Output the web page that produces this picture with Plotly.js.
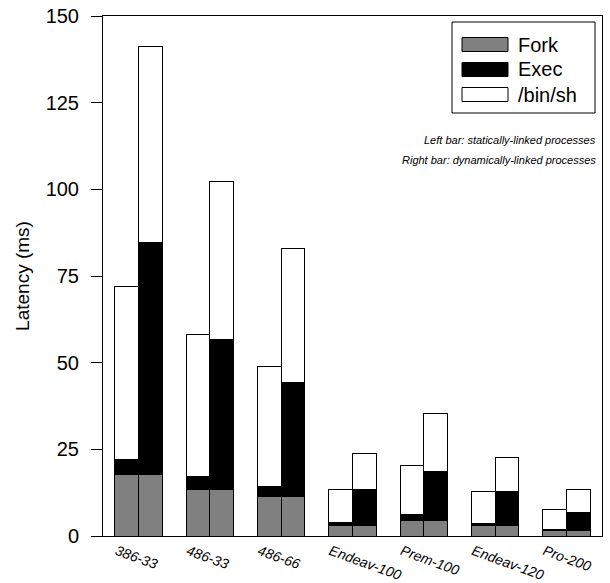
<!DOCTYPE html>
<html>
<head>
<meta charset="utf-8">
<script src="https://cdn.plot.ly/plotly-3.0.1.min.js"></script>
<style>
  html, body { margin: 0; padding: 0; background: #fff; }
  #chart { width: 610px; height: 583px; }
</style>
</head>
<body>
<div id="chart"></div>
<script>
// Machines (one pair of bars each)
const machines = ['386-33', '486-33', '486-66', 'Endeav-100', 'Prem-100', 'Endeav-120', 'Pro-200'];

// Left bar: statically-linked processes (ms per stacked segment)
const staticFork  = [17.7, 13.3, 11.3, 3.1, 4.6, 3.0, 1.5];
const staticExec  = [4.3, 3.8, 3.1, 0.7, 1.5, 0.5, 0.5];
const staticShell = [50.0, 40.9, 34.6, 9.5, 14.2, 9.3, 5.7];

// Right bar: dynamically-linked processes (ms per stacked segment)
const dynamicFork  = [17.7, 13.3, 11.3, 3.1, 4.6, 3.0, 1.5];
const dynamicExec  = [67.1, 43.5, 32.9, 10.2, 14.1, 9.7, 5.4];
const dynamicShell = [56.5, 45.6, 38.8, 10.5, 16.5, 10.0, 6.6];

const seriesNames  = ['Fork', 'Exec', '/bin/sh'];
const seriesColors = ['#808080', '#000000', '#ffffff'];
const yTicks = [0, 25, 50, 75, 100, 125, 150];

const FONT = '"Liberation Sans", Arial, Helvetica, sans-serif';
const BAR_W = 0.332;

// interleave left/right bar positions and values per machine
const xPos = [];
machines.forEach((m, i) => { xPos.push(i - BAR_W / 2, i + BAR_W / 2); });
function pairUp(a, b) {
  const out = [];
  a.forEach((v, i) => { out.push(v, b[i]); });
  return out;
}
const segValues = [
  pairUp(staticFork, dynamicFork),
  pairUp(staticExec, dynamicExec),
  pairUp(staticShell, dynamicShell)
];

const traces = seriesNames.map((name, k) => ({
  type: 'bar',
  name: name,
  x: xPos,
  y: segValues[k],
  width: BAR_W,
  marker: { color: seriesColors[k], line: { color: '#000', width: 1 } },
  showlegend: false,
  hoverinfo: 'y+name'
}));

// plot area in pixels, used to place the legend box in paper units
const M = { l: 103, r: 8, t: 16, b: 47 };
const W = 610, H = 583;
const PW = W - M.l - M.r, PH = H - M.t - M.b;
const px = v => (v - M.l) / PW;
const py = v => (H - M.b - v) / PH;

const shapes = [{
  type: 'rect', xref: 'paper', yref: 'paper',
  x0: px(452), x1: px(595), y0: py(113), y1: py(22),
  line: { color: '#000', width: 1 }, fillcolor: '#fff', layer: 'above'
}];
const annotations = [];
const rowY = [44.5, 69.5, 94.5];
seriesNames.forEach((name, k) => {
  shapes.push({
    type: 'rect', xref: 'paper', yref: 'paper',
    x0: px(462), x1: px(508), y0: py(rowY[k] + 7), y1: py(rowY[k] - 7),
    fillcolor: seriesColors[k], line: { color: '#000', width: 1 }, layer: 'above'
  });
  annotations.push({
    xref: 'paper', yref: 'paper', x: px(516), y: py(rowY[k]),
    xanchor: 'left', yanchor: 'middle', showarrow: false,
    text: name, font: { family: FONT, size: 20, color: '#000' }
  });
});
annotations.push({
  xref: 'paper', yref: 'paper', x: px(598), y: py(140),
  xanchor: 'right', yanchor: 'middle', showarrow: false,
  text: 'Left bar: statically-linked processes',
  font: { family: FONT, size: 11, color: '#000', style: 'italic' }
});
annotations.push({
  xref: 'paper', yref: 'paper', x: px(598), y: py(160),
  xanchor: 'right', yanchor: 'middle', showarrow: false,
  text: 'Right bar: dynamically-linked processes',
  font: { family: FONT, size: 11, color: '#000', style: 'italic' }
});

const layout = {
  width: W, height: H,
  margin: M,
  paper_bgcolor: '#fff', plot_bgcolor: '#fff',
  barmode: 'stack',
  font: { family: FONT, color: '#000' },
  xaxis: {
    range: [-0.5, 6.5],
    tickvals: machines.map((m, i) => i),
    ticktext: machines,
    tickangle: 20,
    ticks: '',
    ticklabelshift: -22,
    ticklabelstandoff: 1,
    tickfont: { family: FONT, size: 14, style: 'italic' },
    showline: true, mirror: true, linecolor: '#000', linewidth: 1,
    showgrid: false, zeroline: false, fixedrange: true
  },
  yaxis: {
    range: [0, 150],
    tickvals: yTicks,
    ticks: 'outside', ticklen: 11, tickcolor: '#000', tickwidth: 1,
    ticklabelstandoff: 8,
    tickfont: { family: FONT, size: 20 },
    showline: true, mirror: true, linecolor: '#000', linewidth: 1,
    showgrid: false, zeroline: false, fixedrange: true,
    title: { text: 'Latency (ms)', font: { family: FONT, size: 19 }, standoff: 10 }
  },
  shapes: shapes,
  annotations: annotations,
  showlegend: false
};

Plotly.newPlot('chart', traces, layout, { displayModeBar: false, staticPlot: true });
</script>
</body>
</html>
